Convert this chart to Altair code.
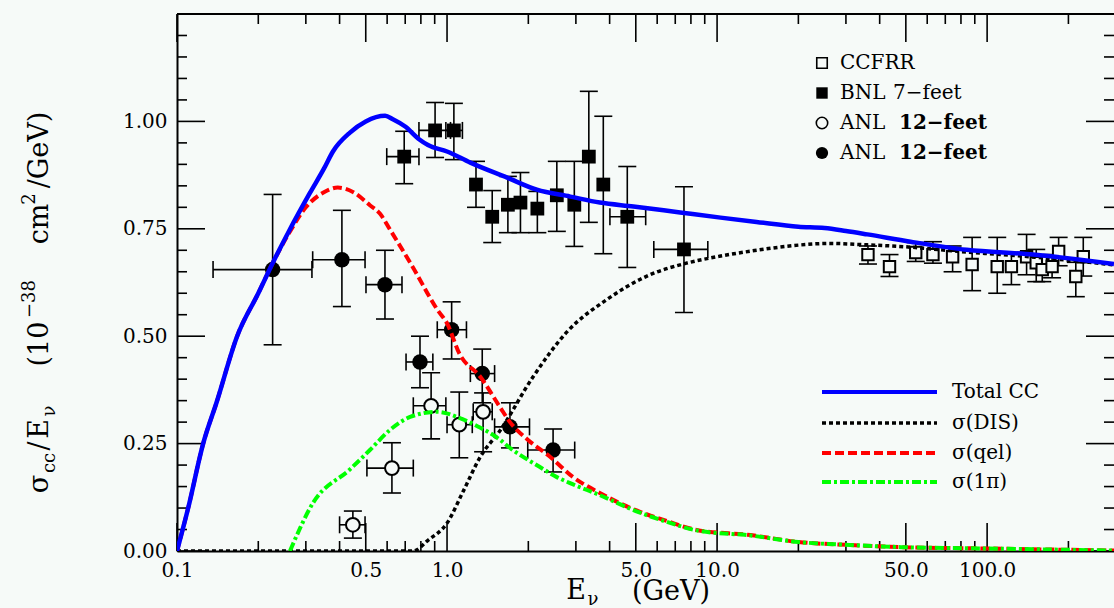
import altair as alt
import pandas as pd

# ---------------- data ----------------
# Theory curves (E in GeV, sigma/E in 1e-38 cm^2/GeV)
E_total = [0.1, 0.11, 0.125, 0.14, 0.167, 0.2, 0.226, 0.26, 0.311, 0.35, 0.378, 0.437, 0.5, 0.59,
           0.63, 0.7, 0.79, 0.85, 1.0, 1.22, 1.67, 2.15, 2.86, 3.68, 4.9, 7.3, 10.3, 14, 20, 25, 30,
           36, 52, 84, 148, 295]
Y_total = [0.0, 0.10, 0.25, 0.345, 0.50, 0.60, 0.67, 0.745, 0.834, 0.89, 0.93, 0.974, 1.0, 1.013,
           1.005, 0.988, 0.958, 0.945, 0.93, 0.904, 0.869, 0.841, 0.825, 0.811, 0.802, 0.788, 0.776,
           0.766, 0.755, 0.752, 0.745, 0.737, 0.72, 0.701, 0.69, 0.668]

E_dis = [0.1, 0.748, 0.85, 1.0, 1.15, 1.33, 1.57, 2.08, 2.78, 3.9, 5.5, 7.7, 10.2, 14, 20, 26, 35,
         50, 80, 150, 295]
Y_dis = [0.0, 0.0, 0.025, 0.065, 0.14, 0.22, 0.28, 0.405, 0.51, 0.585, 0.64, 0.67, 0.686, 0.70,
         0.712, 0.716, 0.713, 0.708, 0.697, 0.684, 0.666]

E_qel = [0.1, 0.11, 0.125, 0.14, 0.167, 0.2, 0.226, 0.26, 0.3, 0.35, 0.394, 0.45, 0.518, 0.565,
         0.615, 0.748, 0.92, 1.0, 1.11, 1.33, 1.57, 1.71, 2.0, 2.4, 2.93, 3.68, 5.0, 6.5, 8.4, 13.3,
         20, 31, 48, 96, 295]
Y_qel = [0.0, 0.10, 0.25, 0.345, 0.50, 0.60, 0.67, 0.74, 0.80, 0.835, 0.846, 0.835, 0.805, 0.785,
         0.748, 0.66, 0.562, 0.53, 0.46, 0.405, 0.335, 0.30, 0.258, 0.22, 0.172, 0.135, 0.095, 0.07,
         0.049, 0.037, 0.021, 0.014, 0.009, 0.006, 0.001]

E_1pi = [0.262, 0.319, 0.437, 0.518, 0.615, 0.73, 0.92, 1.11, 1.3, 1.57, 1.67, 2.2, 2.55, 2.93, 3.68,
         5.0, 6.5, 8.4, 13.3, 20, 31, 48, 96, 295]
Y_1pi = [0.0, 0.112, 0.19, 0.235, 0.282, 0.312, 0.324, 0.31, 0.29, 0.259, 0.245, 0.196, 0.172, 0.155,
         0.13, 0.093, 0.068, 0.048, 0.036, 0.021, 0.014, 0.009, 0.006, 0.001]

# Measurements
E_ccfrr = [36.2, 43.5, 54.4, 63, 74.5, 88, 109, 123, 140, 152, 160, 174, 184, 213, 227]
Y_ccfrr = [0.690, 0.662, 0.695, 0.690, 0.685, 0.667, 0.662, 0.662, 0.685, 0.671, 0.655, 0.662, 0.697,
           0.639, 0.685]
Ylo_ccfrr = [0.668, 0.639, 0.674, 0.67, 0.65, 0.606, 0.60, 0.62, 0.643, 0.627, 0.627, 0.636, 0.664,
             0.592, 0.64]
Yhi_ccfrr = [0.71, 0.69, 0.718, 0.72, 0.71, 0.73, 0.73, 0.695, 0.737, 0.702, 0.685, 0.69, 0.73,
             0.672, 0.73]

E_bnl = [0.694, 0.903, 1.06, 1.28, 1.47, 1.68, 1.87, 2.16, 2.55, 2.96, 3.35, 3.79, 4.65, 7.54]
Y_bnl = [0.918, 0.979, 0.979, 0.853, 0.778, 0.806, 0.811, 0.797, 0.828, 0.806, 0.918, 0.853, 0.778,
         0.702]
Elo_bnl = [0.598, 0.787, 0.99, 1.28, 1.47, 1.68, 1.87, 2.16, 2.55, 2.96, 3.35, 3.79, 4.01, 5.83]
Ehi_bnl = [0.787, 1.03, 1.14, 1.28, 1.47, 1.68, 1.87, 2.16, 2.55, 2.96, 3.35, 3.79, 5.44, 9.24]
Ylo_bnl = [0.855, 0.916, 0.911, 0.80, 0.718, 0.741, 0.741, 0.741, 0.744, 0.709, 0.765, 0.692, 0.66,
           0.555]
Yhi_bnl = [0.977, 1.044, 1.042, 0.907, 0.839, 0.872, 0.881, 0.837, 0.907, 0.907, 1.07, 1.012, 0.895,
           0.848]

E_anl_o = [0.448, 0.625, 0.873, 1.11, 1.36]
Y_anl_o = [0.061, 0.193, 0.338, 0.294, 0.324]
Elo_anl_o = [0.40, 0.505, 0.75, 1.0, 1.25]
Ehi_anl_o = [0.497, 0.75, 0.99, 1.24, 1.47]
Ylo_anl_o = [0.03, 0.135, 0.261, 0.217, 0.231]
Yhi_anl_o = [0.093, 0.252, 0.415, 0.37, 0.368]

E_anl_f = [0.226, 0.408, 0.589, 0.794, 1.04, 1.35, 1.71, 2.47]
Y_anl_f = [0.655, 0.678, 0.620, 0.440, 0.515, 0.413, 0.289, 0.235]
Elo_anl_f = [0.136, 0.318, 0.501, 0.705, 0.92, 1.22, 1.50, 1.99]
Ehi_anl_f = [0.316, 0.497, 0.681, 0.886, 1.18, 1.50, 2.02, 2.97]
Ylo_anl_f = [0.48, 0.569, 0.54, 0.38, 0.447, 0.345, 0.24, 0.184]
Yhi_anl_f = [0.83, 0.793, 0.70, 0.50, 0.58, 0.47, 0.345, 0.284]

# Axis ticks
x_major = [0.1, 0.5, 1, 5, 10, 50, 100]
x_minor = [0.2, 0.3, 0.4, 0.6, 0.7, 0.8, 0.9, 2, 3, 4, 6, 7, 8, 9, 20, 30, 40, 60, 70, 80, 90, 200]
y_major = [0.0, 0.25, 0.5, 0.75, 1.0, 1.25]
y_minor = [round(0.05 * i, 2) for i in range(1, 25) if i % 5 != 0]
y_labels = [0.0, 0.25, 0.5, 0.75, 1.0]

legend_lines = ["Total CC", "σ(DIS)", "σ(qel)", "σ(1π)"]

# ---------------- style ----------------
BG = "#F6FAF8"
FONT = "DejaVu Serif"
PL, PT = 177, 14
W, H = 937, 537
XMIN, XMAX, YMAX = 0.1, 295, 1.25
BIG, SMALL = 28, 10

xscale = alt.Scale(type="log", domain=[XMIN, XMAX], nice=False)
yscale = alt.Scale(domain=[0, YMAX], nice=False)
xaxis = alt.Axis(values=x_major, format=".1f", ticks=False, grid=False, title=None,
                 domainColor="black", domainWidth=2, labelFont=FONT, labelFontSize=20,
                 labelColor="black", labelPadding=9, labelFlush=False, labelOverlap=False)
yaxis = alt.Axis(values=y_labels, format=".2f", ticks=False, grid=False, title=None,
                 domainColor="black", domainWidth=2, labelFont=FONT, labelFontSize=20,
                 labelColor="black", labelPadding=10, labelOverlap=False)


def X(field):
    return alt.X(f"{field}:Q", scale=xscale, axis=xaxis)


def Y(field):
    return alt.Y(f"{field}:Q", scale=yscale, axis=yaxis)


one = alt.Data(values=[{"k": 1}])


def px(v):
    return alt.value(v - PL)


def py(v):
    return alt.value(v - PT)


layers = []

# ----- axis tick marks (inside, on all four sides) -----
for vals, ln in ((x_major, BIG), (x_minor, SMALL)):
    d = pd.DataFrame({"E": vals})
    layers.append(alt.Chart(d).mark_rule(color="black", strokeWidth=1.6).encode(
        x=X("E"), y=alt.value(H), y2=alt.value(H - ln)))
    layers.append(alt.Chart(d).mark_rule(color="black", strokeWidth=1.6).encode(
        x=X("E"), y=alt.value(0), y2=alt.value(ln)))
for vals, ln in ((y_major, BIG), (y_minor, SMALL)):
    d = pd.DataFrame({"y": vals})
    layers.append(alt.Chart(d).mark_rule(color="black", strokeWidth=1.6).encode(
        y=Y("y"), x=alt.value(0), x2=alt.value(ln)))
    layers.append(alt.Chart(d).mark_rule(color="black", strokeWidth=1.6).encode(
        y=Y("y"), x=alt.value(W), x2=alt.value(W - ln)))

# top border
layers.append(alt.Chart(one).mark_rule(color="black", strokeWidth=2).encode(
    x=alt.value(0), x2=alt.value(W), y=alt.value(0)))


# ----- measurements -----
def points(E, Yv, ylo, yhi, elo=None, ehi=None, shape="circle", filled=True, size=200):
    d = pd.DataFrame({"E": E, "y": Yv, "ylo": ylo, "yhi": yhi,
                      "elo": elo if elo else E, "ehi": ehi if ehi else E})
    out = []
    out.append(alt.Chart(d).mark_rule(color="black", strokeWidth=1.6).encode(
        x=X("E"), y=Y("ylo"), y2="yhi:Q"))
    out.append(alt.Chart(d).mark_tick(orient="horizontal", color="black", size=18,
                                      thickness=1.6, opacity=1).encode(x=X("E"), y=Y("ylo")))
    out.append(alt.Chart(d).mark_tick(orient="horizontal", color="black", size=18,
                                      thickness=1.6, opacity=1).encode(x=X("E"), y=Y("yhi")))
    dx = d[d["elo"] < d["E"]]
    if len(dx):
        out.append(alt.Chart(dx).mark_rule(color="black", strokeWidth=1.6).encode(
            x=X("elo"), x2="ehi:Q", y=Y("y")))
        out.append(alt.Chart(dx).mark_tick(orient="vertical", color="black", size=17,
                                           thickness=1.6, opacity=1).encode(x=X("elo"), y=Y("y")))
        out.append(alt.Chart(dx).mark_tick(orient="vertical", color="black", size=17,
                                           thickness=1.6, opacity=1).encode(x=X("ehi"), y=Y("y")))
    if filled:
        mk = alt.Chart(d).mark_point(shape=shape, filled=True, color="black", size=size, opacity=1)
    else:
        mk = alt.Chart(d).mark_point(shape=shape, filled=True, fill=BG, stroke="black",
                                     strokeWidth=2, size=size, opacity=1)
    out.append(mk.encode(x=X("E"), y=Y("y")))
    return out


layers += points(E_ccfrr, Y_ccfrr, Ylo_ccfrr, Yhi_ccfrr, shape="square", filled=False, size=130)
layers += points(E_bnl, Y_bnl, Ylo_bnl, Yhi_bnl, Elo_bnl, Ehi_bnl, shape="square", filled=True, size=190)
layers += points(E_anl_o, Y_anl_o, Ylo_anl_o, Yhi_anl_o, Elo_anl_o, Ehi_anl_o, shape="circle",
                 filled=False, size=190)
layers += points(E_anl_f, Y_anl_f, Ylo_anl_f, Yhi_anl_f, Elo_anl_f, Ehi_anl_f, shape="circle",
                 filled=True, size=240)

# ----- theory curves -----
curve_style = [
    (E_dis, Y_dis, "black", [4, 3], 3.5),
    (E_qel, Y_qel, "#FF0000", [9, 4], 4),
    (E_1pi, Y_1pi, "#00FF00", [9, 3, 3, 3], 4),
    (E_total, Y_total, "#0000FF", None, 4.5),
]
for E, Yv, col, dash, wd in curve_style:
    d = pd.DataFrame({"E": E, "y": Yv})
    kw = dict(color=col, strokeWidth=wd, clip=True, interpolate="monotone")
    if dash:
        kw["strokeDash"] = dash
    layers.append(alt.Chart(d).mark_line(**kw).encode(x=X("E"), y=Y("y")))

# ----- legend: measurements -----
leg_y = [63, 93, 123, 153]
shapes = [("square", False, 110), ("square", True, 130), ("circle", False, 130), ("circle", True, 150)]
for yy, (shp, fil, sz) in zip(leg_y, shapes):
    if fil:
        mk = alt.Chart(one).mark_point(shape=shp, filled=True, color="black", size=sz, opacity=1)
    else:
        mk = alt.Chart(one).mark_point(shape=shp, filled=True, fill=BG, stroke="black",
                                       strokeWidth=1.6, size=sz, opacity=1)
    layers.append(mk.encode(x=px(822), y=py(yy)))

leg_texts = [
    (840, 63, "CCFRR", "normal"),
    (840, 93, "BNL", "normal"), (893, 93, "7−feet", "normal"),
    (840, 123, "ANL", "normal"), (899, 123, "12−feet", "bold"),
    (840, 153, "ANL", "normal"), (899, 153, "12−feet", "bold"),
]
for x0, y0, t, fw in leg_texts:
    layers.append(alt.Chart(one).mark_text(text=t, align="left", baseline="middle", font=FONT,
                                           fontSize=20, fontWeight=fw, color="black").encode(
        x=px(x0), y=py(y0)))

# ----- legend: curves -----
leg2_y = [392, 423, 453, 482]
for yy, lab, (_, _, col, dash, wd) in zip(leg2_y, legend_lines, [curve_style[3]] + curve_style[:3]):
    kw = dict(color=col, strokeWidth=min(wd, 4))
    if dash:
        kw["strokeDash"] = dash
    layers.append(alt.Chart(one).mark_rule(**kw).encode(x=px(822), x2=px(937), y=py(yy)))
    layers.append(alt.Chart(one).mark_text(text=lab, align="left", baseline="middle", font=FONT,
                                           fontSize=20, color="black").encode(
        x=px(952), y=py(yy)))


# ----- axis titles -----
def txt(t, x0, y0, size, angle=0, align="center", baseline="alphabetic"):
    kw = dict(text=t, align=align, baseline=baseline, font=FONT, fontSize=size, color="black")
    if angle:
        kw["angle"] = angle
    return alt.Chart(one).mark_text(**kw).encode(x=px(x0), y=py(y0))


layers.append(txt("E", 576, 599, 27))
layers.append(txt("ν", 593, 605, 18))
layers.append(txt("(GeV)", 671, 600, 27))

BL = 48
layers.append(txt("σ", BL, 484, 27, angle=270))
layers.append(txt("cc", BL + 7, 463, 18, angle=270))
layers.append(txt("/", BL, 446, 27, angle=270))
layers.append(txt("E", BL, 429, 27, angle=270))
layers.append(txt("ν", BL + 7, 411, 18, angle=270))
layers.append(txt("(10", BL, 344, 27, angle=270))
layers.append(txt("−38", BL - 13, 299, 18, angle=270))
layers.append(txt("cm", BL, 224, 27, angle=270))
layers.append(txt("2", BL - 13, 199, 18, angle=270))
layers.append(txt("/GeV)", BL, 150, 27, angle=270))

chart = alt.layer(*layers).properties(
    width=W, height=H,
    padding={"left": PL, "top": PT, "right": 0, "bottom": 608 - PT - H},
    autosize=alt.AutoSizeParams(type="none"),
    background=BG,
).configure_view(stroke=None, fill=BG)

chart.save("out.html", embed_options={"renderer": "svg", "actions": False})
